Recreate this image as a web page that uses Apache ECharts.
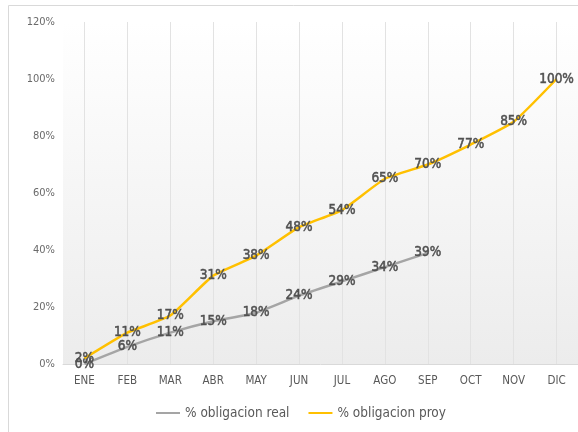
<!DOCTYPE html>
<html>
<head>
<meta charset="utf-8">
<script src="https://cdn.jsdelivr.net/npm/echarts@6/dist/echarts.min.js"></script>
<style>html,body{margin:0;padding:0;background:#fff}#c{width:578px;height:432px}</style>
</head>
<body>
<div id="c"></div>
<script>
const categories = ['ENE','FEB','MAR','ABR','MAY','JUN','JUL','AGO','SEP','OCT','NOV','DIC'];
const realValues = [0, 6, 11, 15, 18, 24, 29, 34, 39, null, null, null];
const proyValues = [2, 11, 17, 31, 38, 48, 54, 65, 70, 77, 85, 100];
const yTicks = [0, 20, 40, 60, 80, 100, 120];
const seriesNames = ['% obligacion real', '% obligacion proy'];

const FONT = '"DejaVu Sans Condensed", "Liberation Sans Narrow", sans-serif';
const chart = echarts.init(document.getElementById('c'));
const labelStyle = {
  show: true, position: 'inside', color: '#505050', fontSize: 13.5, fontWeight: 'normal',
  fontFamily: FONT, textBorderColor: '#505050', textBorderWidth: 0.5,
  formatter: p => p.value == null ? '' : p.value + '%'
};
chart.setOption({
  animation: false,
  graphic: [{ type: 'rect', shape: { x: 8.5, y: 5.5, width: 700, height: 600 }, style: { fill: 'none', stroke: '#d9d9d9', lineWidth: 1 }, z: -10 }],
  grid: {
    left: 63, right: -5, top: 22, bottom: 68, show: true, borderWidth: 0,
    backgroundColor: { type: 'linear', x: 0, y: 0, x2: 0, y2: 1, colorStops: [{ offset: 0, color: '#ffffff' }, { offset: 1, color: '#ececec' }] }
  },
  legend: {
    left: 151, top: 401, itemWidth: 24, itemHeight: 2, itemGap: 19,
    icon: 'rect',
    textStyle: { color: '#595959', fontSize: 13.5, fontFamily: FONT },
    data: seriesNames
  },
  xAxis: {
    type: 'category', data: categories, boundaryGap: true,
    axisLine: { show: true, lineStyle: { color: '#d9d9d9' } },
    axisTick: { show: false },
    axisLabel: { color: '#595959', fontSize: 11.5, margin: 11, fontFamily: FONT },
    splitLine: { show: true, alignWithLabel: true, lineStyle: { color: '#e2e2e2', width: 1 } }
  },
  yAxis: {
    type: 'value', min: yTicks[0], max: yTicks[yTicks.length - 1], interval: 20,
    axisLine: { show: false }, axisTick: { show: false },
    splitLine: { show: false },
    axisLabel: { color: '#6a6a6a', fontSize: 11, margin: 8, formatter: '{value}%', fontFamily: FONT }
  },
  series: [
    { name: seriesNames[0], type: 'line', data: realValues, smooth: 0.15, showSymbol: true, symbol: 'circle', symbolSize: 0.1,
      lineStyle: { color: '#a5a5a5', width: 2.5 }, itemStyle: { color: '#a5a5a5' }, label: labelStyle, z: 2 },
    { name: seriesNames[1], type: 'line', data: proyValues, smooth: 0.15, showSymbol: true, symbol: 'circle', symbolSize: 0.1,
      lineStyle: { color: '#ffc000', width: 2.5 }, itemStyle: { color: '#ffc000' }, label: labelStyle, z: 3 }
  ]
});
</script>
</body>
</html>
